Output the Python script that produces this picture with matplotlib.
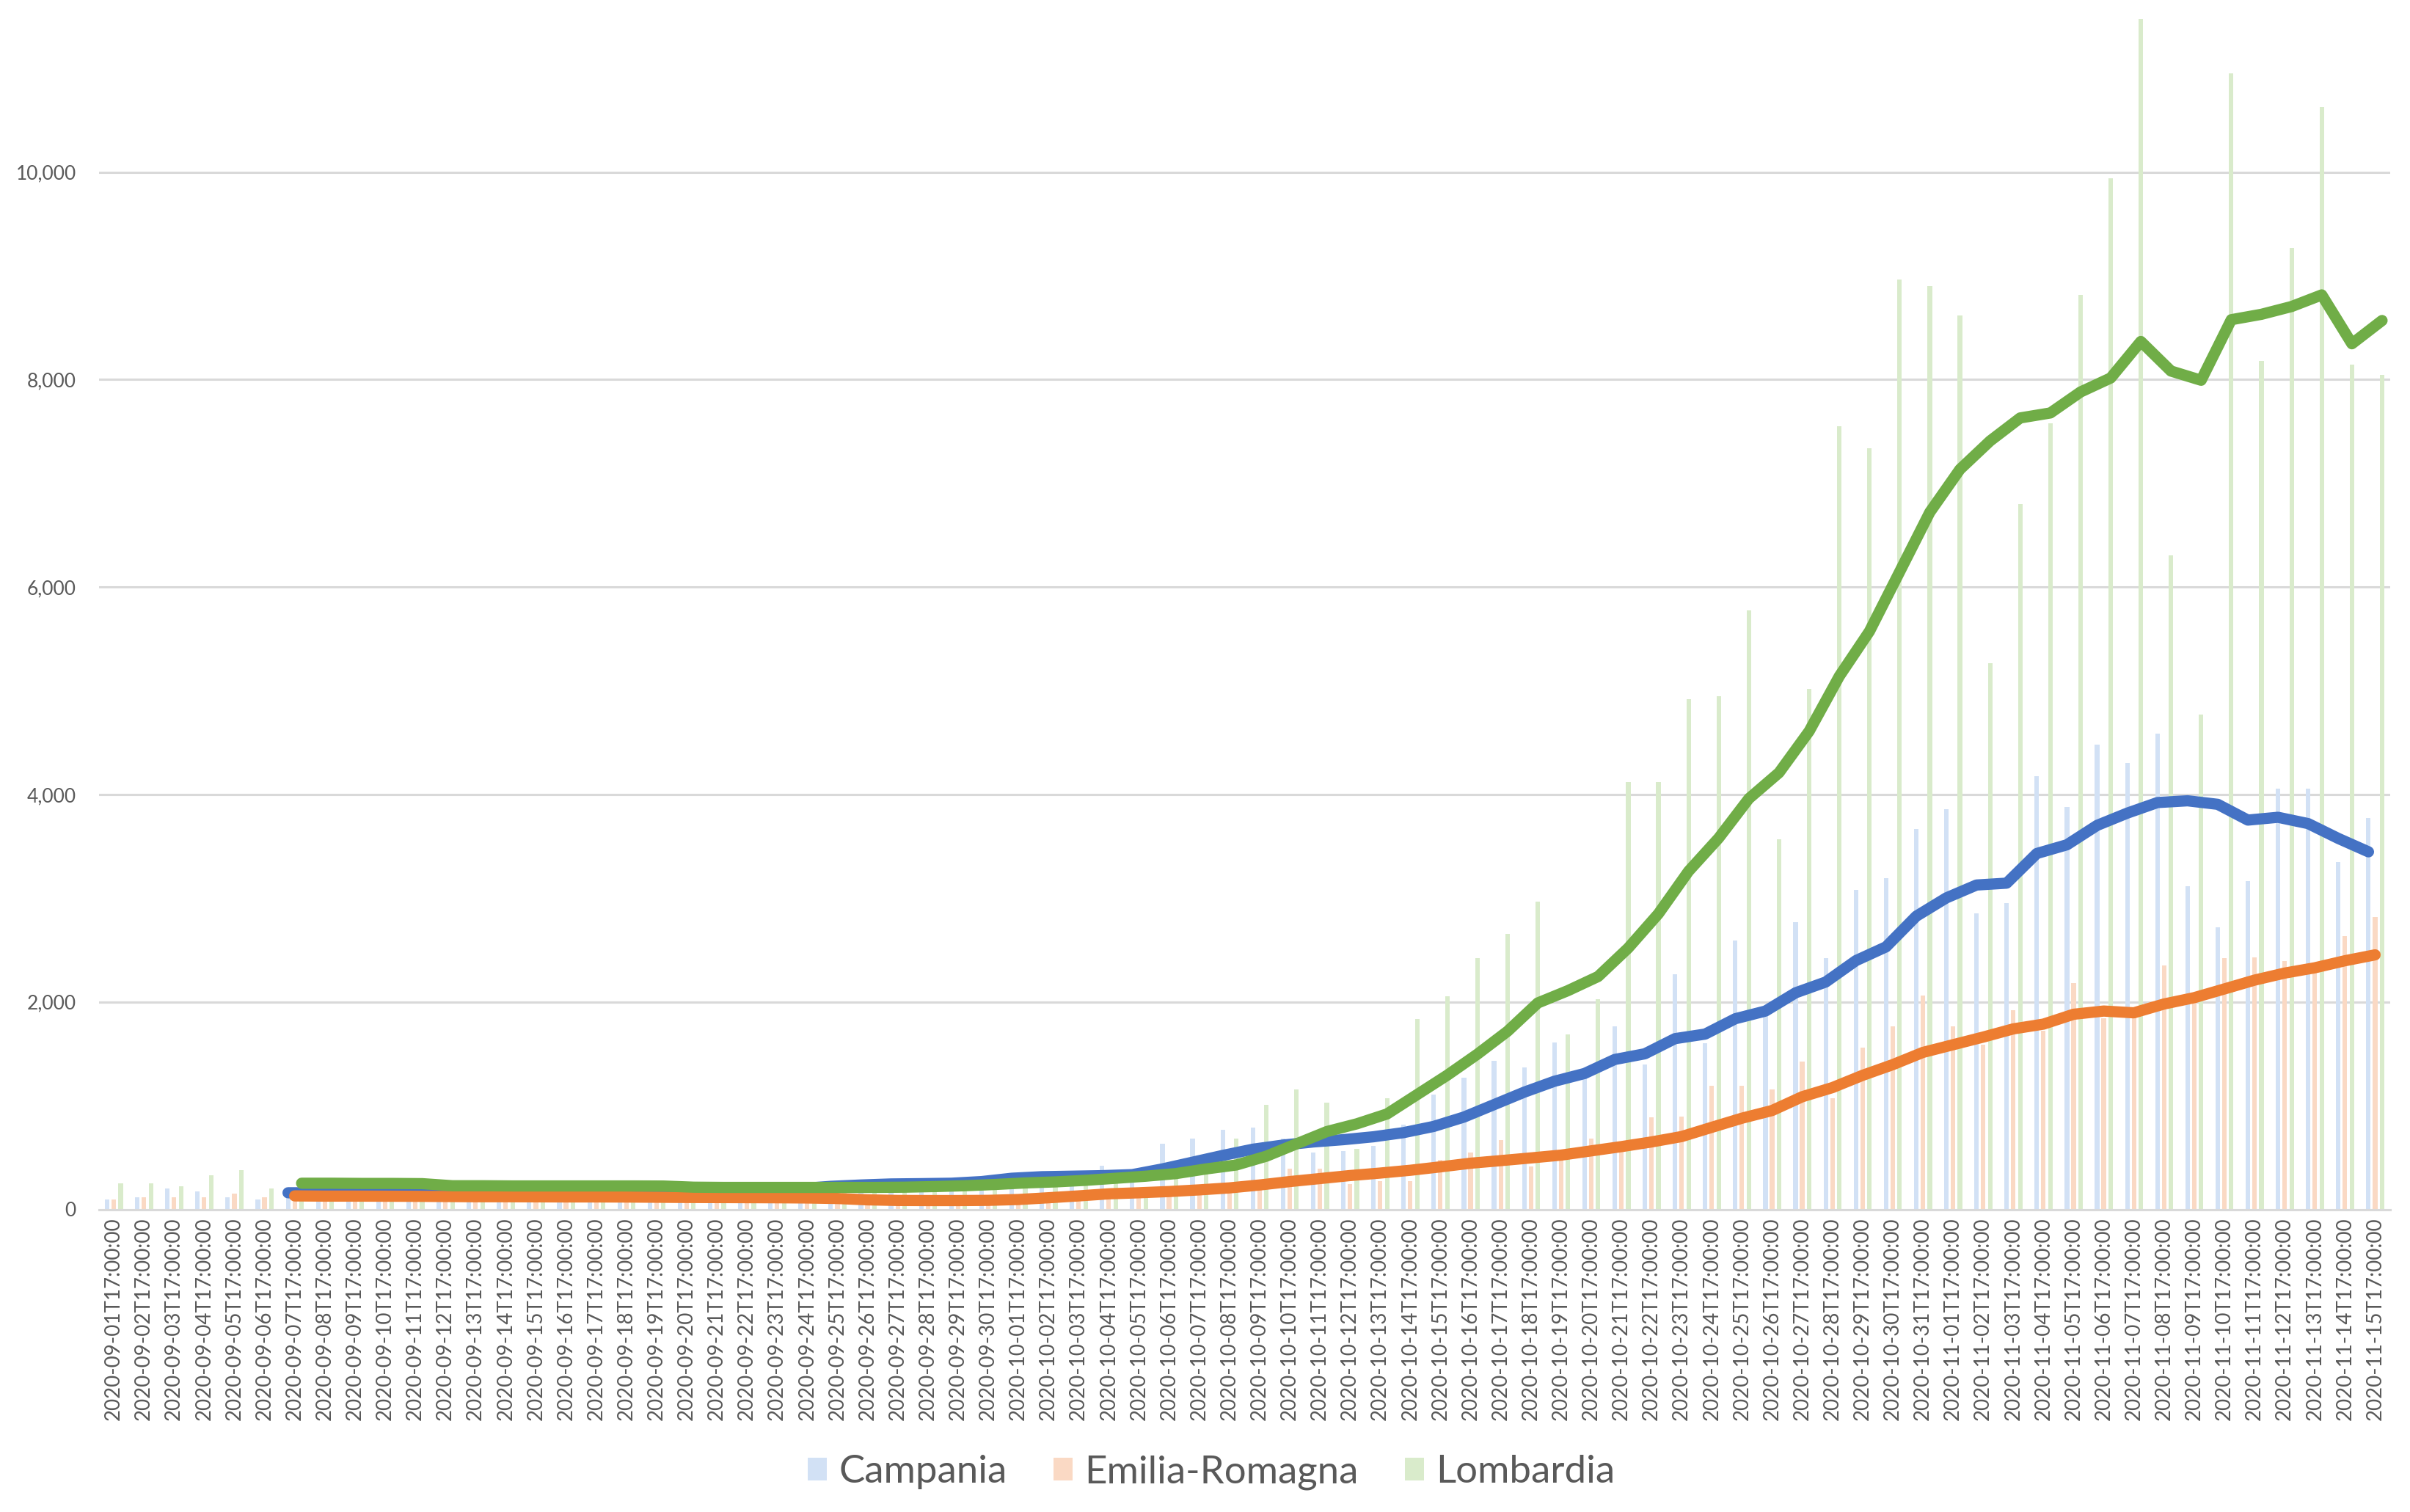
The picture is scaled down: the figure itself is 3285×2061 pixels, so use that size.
import matplotlib
matplotlib.use("Agg")
import matplotlib.pyplot as plt
import numpy as np
import pandas as pd
from matplotlib.patches import Patch
from matplotlib.ticker import FuncFormatter

# ---- data -------------------------------------------------------------
dates = list(pd.date_range("2020-09-01", "2020-11-15").strftime("%Y-%m-%dT17:00:00"))
regions = ["Campania", "Emilia-Romagna", "Lombardia"]

campania = [94, 118, 200, 172, 118, 94,
            150, 180, 140, 190, 170, 150, 160, 200, 130, 180, 160, 170, 200, 150,
            190, 210, 180, 230, 270, 260, 240, 230, 270, 290,
            310, 300, 360, 420, 280, 630, 680,
            767, 791, 683, 547, 564, 615, 818, 1107, 1267, 1430,
            1368, 1606, 1300, 1762, 1396, 2270, 1600, 2590, 1870, 2769,
            2421, 3083, 3195, 3666, 3855, 2856, 2955, 4173, 3880, 4480,
            4305, 4586, 3116, 2720, 3165, 4055, 4055, 3351, 3771]
emilia = [94, 118, 118, 118, 153, 118,
          110, 150, 130, 120, 140, 110, 120, 130, 100, 130, 120, 110, 125, 105,
          110, 95, 120, 110, 80, 70, 75, 80, 85, 90,
          120, 150, 140, 180, 150, 170, 230,
          230, 280, 394, 394, 241, 270, 275, 479, 547, 666,
          411, 513, 683, 620, 890, 894, 1189, 1189, 1159, 1425,
          1071, 1558, 1764, 2059, 1764, 1587, 1922, 1720, 2183, 1840,
          1905, 2353, 2007, 2420, 2431, 2397, 2278, 2634, 2820]
lombardia = [248, 248, 224, 330, 377, 200,
             180, 290, 260, 250, 280, 200, 230, 220, 160, 230, 240, 210, 250, 190,
             150, 200, 220, 210, 230, 210, 190, 170, 240, 260,
             250, 300, 290, 340, 200, 400, 530,
             683, 1005, 1158, 1029, 580, 1073, 1837, 2058, 2421, 2659,
             2968, 1684, 2024, 4121, 4121, 4917, 4949, 5777, 3567, 5019,
             7548, 7338, 8962, 8904, 8618, 5268, 6800, 7580, 8816, 9940,
             11476, 6307, 4772, 10951, 8180, 9266, 10629, 8142, 8045]

# 7-day moving-average lines, from 2020-09-07 onwards
campania_ma = [160, 160, 160, 160, 160, 162, 163, 165, 165, 167,
               170, 172, 175, 178, 180, 185, 190, 200, 222, 235,
               245, 248, 252, 268,
               300, 315, 320, 325, 335, 390, 455,
               520, 580, 620, 650, 672, 700, 740, 800, 890, 1010,
               1130, 1235, 1310, 1445, 1500, 1646, 1690, 1838, 1912, 2088,
               2192, 2398, 2531, 2826, 3003, 3127, 3145, 3431, 3515, 3702,
               3820, 3922, 3939, 3905, 3753, 3780, 3719, 3576, 3447]
emilia_ma = [130, 128, 128, 127, 126, 124, 122, 122, 121, 120,
             120, 119, 117, 115, 114, 113, 112, 110, 105, 92,
             86, 85, 85, 87,
             95, 112, 130, 150, 160, 172, 188,
             207, 235, 268, 297, 326, 350, 377, 410, 445, 470,
             496, 523, 564, 605, 650, 702, 791, 879, 953, 1086,
             1174, 1292, 1395, 1513, 1587, 1661, 1740, 1786, 1881, 1912,
             1895, 1980, 2041, 2125, 2210, 2278, 2329, 2397, 2454]
lombardia_ma = [252, 252, 250, 250, 248, 228, 228, 226, 226, 226,
                226, 226, 225, 214, 212, 212, 212, 212, 212, 212,
                214, 220, 228, 240,
                255, 265, 280, 300, 320, 345, 390,
                428, 513, 632, 750, 825, 920, 1107, 1294, 1497, 1718,
                1990, 2109, 2245, 2520, 2850, 3260, 3580, 3960, 4210, 4610,
                5140, 5573, 6146, 6720, 7134, 7408, 7630, 7678, 7880, 8015,
                8367, 8082, 7993, 8577, 8629, 8704, 8816, 8345, 8569]
ma_start = 6

yticks = [0, 2000, 4000, 6000, 8000, 10000]

# ---- styling ----------------------------------------------------------
bar_colors = ["#D2E1F5", "#FAD9C4", "#D9EBCB"]
line_colors = ["#4472C4", "#ED7D31", "#70AD47"]
offsets = [-0.22, 0.0, 0.23]
txt_color = "#595959"
FONT = ["Lato", "DejaVu Sans"]

W, H = 3285, 2061
fig = plt.figure(figsize=(W / 100, H / 100), dpi=100)
left, right, bottom, top = 134.5, 3258, 1648.5, 0
ax = fig.add_axes([left / W, 1 - bottom / H, (right - left) / W, (bottom - top) / H])

x = np.arange(len(dates))
for vals, off, col in zip([campania, emilia, lombardia], offsets, bar_colors):
    ax.bar(x + off, vals, width=0.15, color=col, zorder=2, linewidth=0)

xl = np.arange(ma_start, len(dates))
for vals, off, col, z in zip([campania_ma, emilia_ma, lombardia_ma], offsets, line_colors, [4, 5, 6]):
    ax.plot(xl + off, vals, color=col, lw=11, solid_capstyle="round",
            solid_joinstyle="round", zorder=z)

ax.set_xlim(-0.5, len(dates) - 0.5)
ax.set_ylim(0, 11659)
ax.set_yticks(yticks)
ax.yaxis.set_major_formatter(FuncFormatter(lambda v, p: f"{v:,.0f}"))
ax.grid(axis="y", color="#D9D9D9", lw=2.2, zorder=0)
ax.set_axisbelow(True)
for s in ["top", "right", "left"]:
    ax.spines[s].set_visible(False)
ax.spines["bottom"].set_color("#D9D9D9")
ax.spines["bottom"].set_linewidth(2.2)

ax.set_xticks(x)
ax.set_xticklabels(dates, rotation=90, fontsize=20, color=txt_color, family=FONT)
ax.tick_params(axis="x", length=0, pad=8)
ax.tick_params(axis="y", length=0, pad=22, labelsize=19, labelcolor=txt_color)
for t in ax.get_yticklabels():
    t.set_family(FONT)

handles = [Patch(facecolor=c, edgecolor="none") for c in bar_colors]
fig.legend(handles, regions, loc="center", bbox_to_anchor=(1651 / W, 1 - 2007 / H),
           ncol=3, frameon=False, prop={"family": FONT, "size": 38},
           labelcolor=txt_color, handlelength=0.5, handleheight=0.5,
           handletextpad=0.3, columnspacing=1.2)

fig.savefig("out.png", dpi=100, facecolor="white")
